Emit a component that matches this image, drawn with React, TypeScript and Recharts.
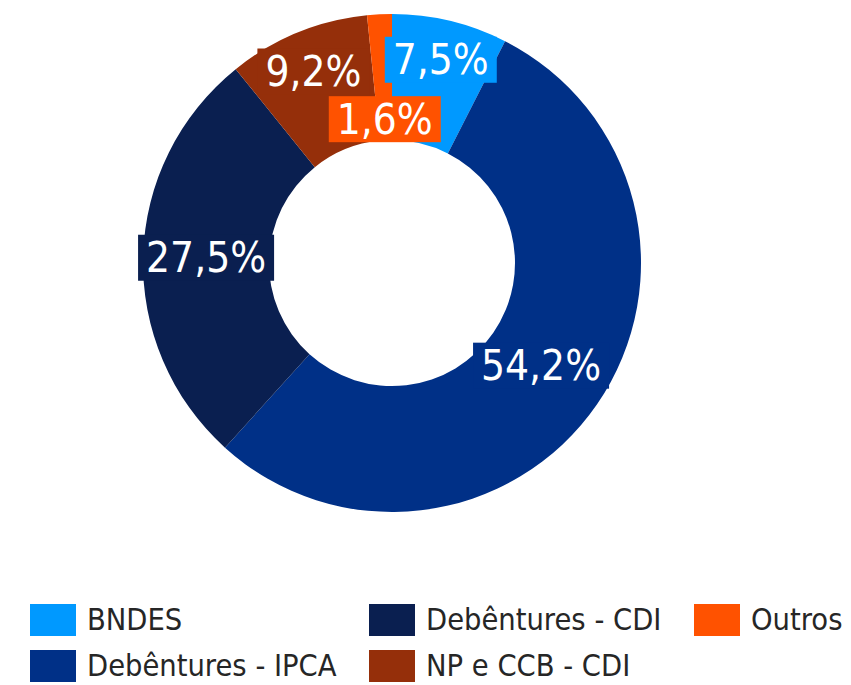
import React from "react";
import { PieChart, Pie, Cell, Legend } from "recharts";

const categories = ["BNDES", "Debêntures - IPCA", "Debêntures - CDI", "NP e CCB - CDI", "Outros"];
const shares = [7.5, 54.2, 27.5, 9.2, 1.6];
const colors = ["#0099FF", "#003087", "#0A1F50", "#952F0A", "#FF5200"];

// radial shift of each data label from the ring's middle (layout only)
const labelShift = [23, -5, 0, 21, -42];

const data = categories.map((name, i) => ({ name, value: shares[i] }));

const FONT = "'DejaVu Sans Condensed', 'DejaVu Sans', sans-serif";
const RAD = Math.PI / 180;

let ctx: CanvasRenderingContext2D | null = null;
function measure(text: string, size: number) {
  if (!ctx) {
    const c = document.createElement("canvas");
    ctx = c.getContext("2d");
  }
  if (!ctx) return text.length * size * 0.55;
  ctx.font = `${size}px 'DejaVu Sans Condensed'`;
  return ctx.measureText(text).width;
}

const fmt = (v: number) => v.toFixed(1).replace(".", ",") + "%";

const renderLabel = (props: any) => {
  const { cx, cy, midAngle, innerRadius, outerRadius, index, value } = props;
  const r = (innerRadius + outerRadius) / 2 + labelShift[index];
  const x = cx + r * Math.cos(-midAngle * RAD);
  const y = cy + r * Math.sin(-midAngle * RAD);
  const text = fmt(value);
  const w = measure(text, 42) + 16;
  const h = 46;
  return (
    <g key={`lbl-${index}`}>
      <rect x={x - w / 2} y={y - h / 2} width={w} height={h} fill={colors[index]} />
      <text
        x={x}
        y={y}
        fill="#FFFFFF"
        fontSize={42}
        fontFamily={FONT}
        textAnchor="middle"
        dominantBaseline="central"
      >
        {text}
      </text>
    </g>
  );
};

const colX = [30, 369, 694];

const renderLegend = () => (
  <div style={{ position: "relative", width: 851, height: 79 }}>
    {categories.map((name, i) => {
      const col = Math.floor(i / 2);
      const row = i % 2;
      return (
        <div
          key={name}
          style={{
            position: "absolute",
            left: colX[col],
            top: row * 46,
            display: "flex",
            alignItems: "center",
            height: 32,
            whiteSpace: "nowrap",
          }}
        >
          <div style={{ width: 46, height: 32, background: colors[i], marginRight: 11 }} />
          <span style={{ fontFamily: FONT, fontSize: 30.5, color: "#262626", lineHeight: "30px" }}>{name}</span>
        </div>
      );
    })}
  </div>
);

export default function App() {
  return (
    <div style={{ position: "absolute", left: 0, top: 0, width: 851, height: 685, background: "#fff" }}>
      <PieChart width={851} height={685} margin={{ top: 0, right: 0, bottom: 0, left: 0 }}>
        <Pie
          data={data}
          dataKey="value"
          nameKey="name"
          cx={392}
          cy={263}
          innerRadius={123}
          outerRadius={249}
          startAngle={90}
          endAngle={-270}
          stroke="none"
          label={renderLabel}
          labelLine={false}
          isAnimationActive={false}
        >
          {data.map((d, i) => (
            <Cell key={d.name} fill={colors[i]} />
          ))}
        </Pie>
        <Legend
          content={renderLegend}
          wrapperStyle={{ position: "absolute", left: 0, top: 604, width: 851, height: 79 }}
        />
      </PieChart>
    </div>
  );
}
